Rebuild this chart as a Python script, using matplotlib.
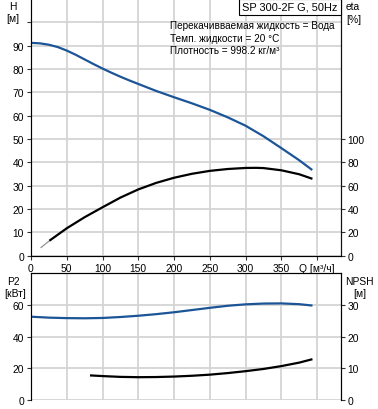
import numpy as np
import matplotlib.pyplot as plt

plt.rcParams['font.family'] = ['Liberation Sans', 'DejaVu Sans']
plt.rcParams['font.size'] = 7.4

# Head curve H [m]
q_h = [0, 12.5, 25, 37.5, 50, 62.5, 75, 87.5, 100, 112.5, 125, 137.5, 150, 175, 200,
       225, 250, 275, 300, 325, 350, 375, 392]
h = [91.2, 91.0, 90.4, 89.4, 87.9, 86.1, 84.1, 82.1, 80.2, 78.4, 76.7, 75.1, 73.6, 70.6, 67.9,
     65.3, 62.5, 59.3, 55.7, 51.2, 46.1, 40.9, 37.0]

# Efficiency eta [%]
q_eta = [14, 27, 50, 75, 100, 125, 150, 175, 200, 225, 250, 275, 300, 315, 325, 350, 375, 392]
eta = [7.0, 13.4, 23.5, 33.0, 41.5, 49.8, 56.8, 62.4, 66.8, 70.2, 72.7, 74.3, 75.2, 75.3, 75.1,
       73.2, 69.8, 66.2]

# Power P2 [kW]
q_p = [0, 25, 50, 75, 100, 125, 150, 175, 200, 225, 250, 275, 300, 325, 350, 375, 392]
p2 = [52.6, 52.0, 51.7, 51.6, 51.8, 52.4, 53.2, 54.2, 55.4, 56.8, 58.2, 59.5, 60.4, 60.9, 61.0,
      60.5, 59.7]

# NPSH [m]
q_npsh = [84, 100, 125, 150, 175, 200, 225, 250, 275, 300, 325, 350, 375, 392]
npsh = [7.75, 7.55, 7.3, 7.2, 7.25, 7.4, 7.65, 8.0, 8.5, 9.1, 9.8, 10.7, 11.8, 12.8]

x_ticks = [0, 50, 100, 150, 200, 250, 300, 350, 400]
x_labels = ['0', '50', '100', '150', '200', '250', '300', '350', 'Q [м³/ч]']

blue = '#1c5597'
grid_c = '#d4d4d4'

fig = plt.figure(figsize=(3.78, 4.10), dpi=100)
W, H = 378, 410


def box(x0, y0, x1, y1):
    return [x0 / W, 1 - y1 / H, (x1 - x0) / W, (y1 - y0) / H]


# upper chart: H and eta
ax1 = fig.add_axes(box(31, 0, 340.7, 256.7))
ax1.set_xlim(0, 433)
ax1.set_ylim(0, 110)
ax1.set_xticks(x_ticks)
ax1.set_xticklabels(x_labels)
ax1.set_yticks(range(0, 101, 10))
ax1.set_yticklabels([str(v) for v in range(0, 91, 10)] + [''])
ax1.grid(True, color=grid_c, linewidth=1.3)
ax1.set_axisbelow(True)
ax1.spines['top'].set_visible(False)
ax1.spines['left'].set_color('#555555')
ax1.spines['bottom'].set_color('#555555')
ax1.tick_params(length=3, width=0.8, color='#333333', pad=2)
ax1.plot(q_h, h, color=blue, lw=1.6)

ax1b = ax1.twinx()
ax1b.set_ylim(0, 220)
ax1b.set_yticks(range(0, 101, 20))
ax1b.spines['top'].set_visible(False)
ax1b.spines['right'].set_color('#111111')
ax1b.tick_params(length=3, width=0.8, color='#333333', pad=2)
ax1b.plot(q_eta[:2], eta[:2], color='#888888', lw=0.8)
ax1b.plot(q_eta[1:], eta[1:], color='black', lw=1.6)

# lower chart: P2 and NPSH
ax2 = fig.add_axes(box(31, 274.3, 340.7, 401))
ax2.set_xlim(0, 433)
ax2.set_ylim(0, 80)
ax2.set_xticks(x_ticks)
ax2.set_xticklabels([])
ax2.tick_params(axis='x', length=0)
ax2.set_yticks([0, 20, 40, 60])
ax2.grid(True, color=grid_c, linewidth=1.3)
ax2.set_axisbelow(True)
ax2.spines['bottom'].set_visible(False)
ax2.spines['left'].set_color('#555555')
ax2.tick_params(axis='y', length=3, width=0.8, color='#333333', pad=2)
ax2.plot(q_p, p2, color=blue, lw=1.6)

ax2b = ax2.twinx()
ax2b.set_ylim(0, 40)
ax2b.set_yticks([0, 10, 20, 30])
ax2b.spines['bottom'].set_visible(False)
ax2b.tick_params(length=3, width=0.8, color='#333333', pad=2)
ax2b.plot(q_npsh, npsh, color='black', lw=1.6)


# axis titles
def ftext(x, y, s, **kw):
    fig.text(x / W, 1 - y / H, s, va='center', **kw)


ftext(13, 7, 'H', ha='center')
ftext(13, 19, '[м]', ha='center')
ftext(346, 7, 'eta', ha='left')
ftext(346, 20, '[%]', ha='left')
ftext(13, 282, 'P2', ha='center')
ftext(15, 294, '[кВт]', ha='center')
ftext(359, 282, 'NPSH', ha='center')
ftext(360, 294, '[м]', ha='center')

# info box
fig.text(290 / W, 1 - 8 / H, 'SP 300-2F G, 50Hz', ha='center', va='center', fontsize=7.9,
         bbox=dict(boxstyle='square,pad=0.3', fc='white', ec='black', lw=0.8))
ftext(170, 26, 'Перекачивваемая жидкость = Вода', ha='left', fontsize=7.2)
ftext(170, 39, 'Темп. жидкости = 20 °C', ha='left', fontsize=7.2)
ftext(170, 51, 'Плотность = 998.2 кг/м³', ha='left', fontsize=7.2)

fig.savefig('out.png', dpi=100)
